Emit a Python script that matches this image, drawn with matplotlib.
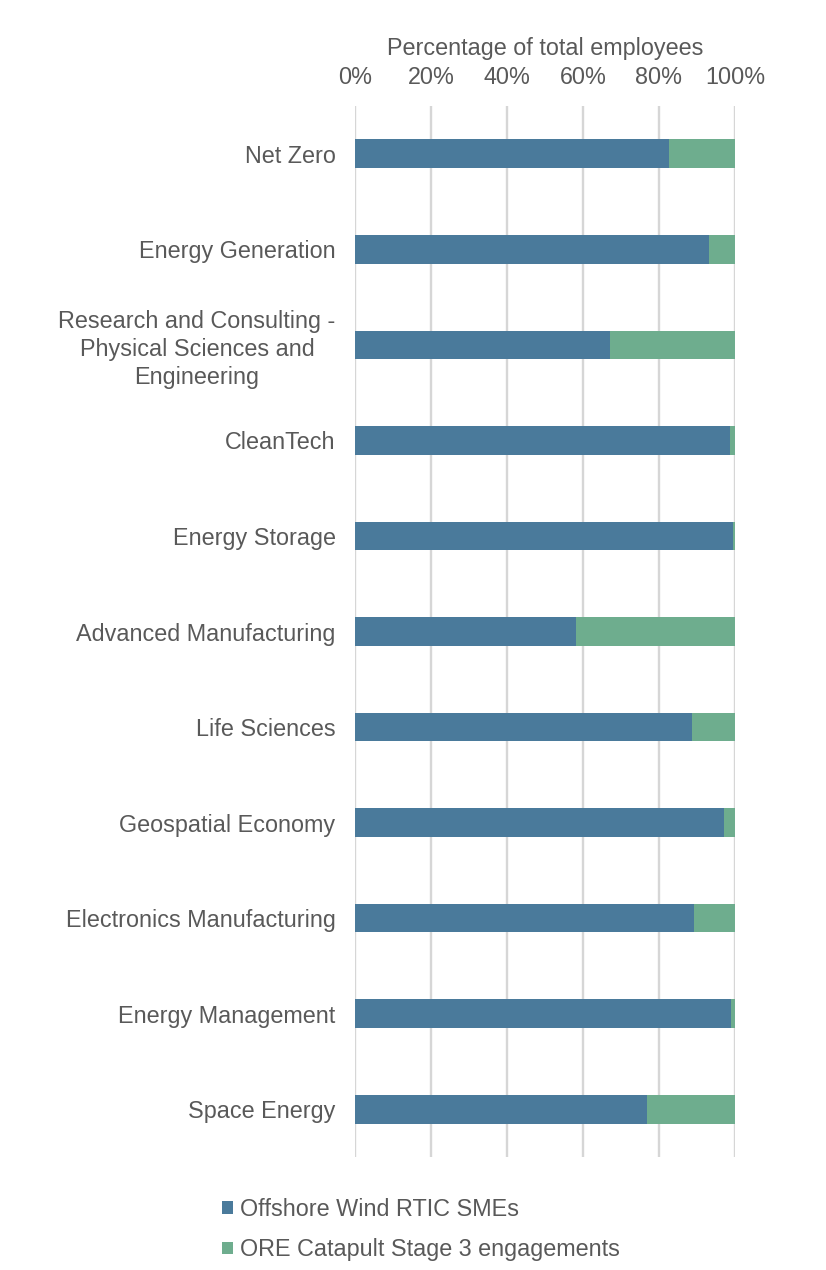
import matplotlib.pyplot as plt
from matplotlib.ticker import PercentFormatter

plt.rcParams['font.family'] = ['Liberation Sans', 'DejaVu Sans']

categories = [
    "Net Zero",
    "Energy Generation",
    "Research and Consulting -\nPhysical Sciences and\nEngineering",
    "CleanTech",
    "Energy Storage",
    "Advanced Manufacturing",
    "Life Sciences",
    "Geospatial Economy",
    "Electronics Manufacturing",
    "Energy Management",
    "Space Energy",
]
rtic_smes = [82.6, 93.2, 67.1, 98.7, 99.5, 58.2, 88.7, 97.1, 89.2, 98.9, 76.8]
ore_stage3 = [100 - v for v in rtic_smes]

series_names = ["Offshore Wind RTIC SMEs", "ORE Catapult Stage 3 engagements"]
BLUE = "#4A7A9B"
GREEN = "#6EAD8E"
TEXT = "#595959"
FS = 16.8

fig = plt.figure(figsize=(8.26, 12.7), dpi=100)
ax = fig.add_axes([0.4298, 0.089, 0.46, 0.8275])

y = list(range(len(categories)))
ax.barh(y, rtic_smes, height=0.3, color=BLUE, label=series_names[0], zorder=3)
ax.barh(y, ore_stage3, left=rtic_smes, height=0.3, color=GREEN, label=series_names[1], zorder=3)

ax.set_ylim(len(categories) - 0.5, -0.5)
ax.set_yticks(y)
ax.set_yticklabels(categories, fontsize=FS, color=TEXT, linespacing=1.27,
                   multialignment="center")
ax.set_xlim(0, 100)
ax.set_xticks([0, 20, 40, 60, 80, 100])
ax.xaxis.set_major_formatter(PercentFormatter(decimals=0))
ax.xaxis.tick_top()
ax.xaxis.set_label_position("top")
ax.set_xlabel("Percentage of total employees", fontsize=FS, color=TEXT, labelpad=8)
ax.tick_params(axis="x", length=0, labelsize=FS, labelcolor=TEXT, pad=12)
ax.tick_params(axis="y", length=0, pad=14)

ax.grid(axis="x", color="#D6D6D6", linewidth=1.7, zorder=0)
for s in ax.spines.values():
    s.set_visible(False)

leg = fig.legend(loc="upper left", bbox_to_anchor=(0.2547, 0.066), frameon=False,
                 fontsize=FS, handlelength=0.45, handleheight=0.45,
                 handletextpad=0.3, labelspacing=0.75, borderpad=0)
for t in leg.get_texts():
    t.set_color(TEXT)

fig.savefig("out.png", dpi=100, facecolor="white")
